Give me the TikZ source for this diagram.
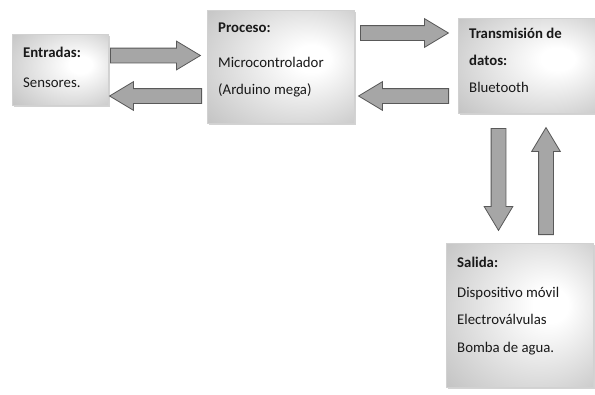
\documentclass[tikz,border=0pt]{standalone}
\usepackage{fontspec}
\setmainfont{Carlito}
\usetikzlibrary{shapes.arrows,shadows}

\pgfdeclareradialshading{cajagris}{\pgfpoint{12bp}{4bp}}{color(0bp)=(white); color(6bp)=(white); color(50bp)=(black!32)}

\begin{document}
\begin{tikzpicture}[x=1pt,y=-1pt,
	caja/.style={draw=black!18, line width=.4pt, shade, shading=cajagris, anchor=north west, inner sep=0pt,
		drop shadow={shadow xshift=1.5pt, shadow yshift=-1.5pt, opacity=.35}},
	flecha/.style={single arrow, draw=black!65, fill=black!35, line width=.8pt, inner sep=7pt,
		single arrow head extend=7pt, single arrow tip angle=62},
	txt/.style={anchor=base west, inner sep=0pt, font=\fontsize{14.8}{17}\selectfont, text=black!90}]

	\useasboundingbox (0,0) rectangle (595,394);

	% cajas
	\node[caja, minimum width=96pt, minimum height=71pt] (ent) at (12,34) {};
	\node[caja, minimum width=147pt, minimum height=113pt] (proc) at (207,10) {};
	\node[caja, minimum width=140pt, minimum height=95pt] (trans) at (458,18) {};
	\node[caja, minimum width=147pt, minimum height=144pt] (sal) at (446,243) {};

	% textos
	\node[txt] (ent1) at (23,57) {\bfseries Entradas:};
	\node[txt] (ent2) at (23,87) {Sensores.};

	\node[txt] (proc1) at (218,32) {\bfseries Proceso:};
	\node[txt] (proc2) at (218,67) {Microcontrolador};
	\node[txt] (proc3) at (218,94) {(Arduino mega)};

	\node[txt] (trans1) at (469,38) {\bfseries Transmisión de};
	\node[txt] (trans2) at (469,65) {\bfseries datos:};
	\node[txt] (trans3) at (469,92) {Bluetooth};

	\node[txt] (sal1) at (457,267) {\bfseries Salida:};
	\node[txt] (sal2) at (457,297) {Dispositivo móvil};
	\node[txt] (sal3) at (457,324) {Electroválvulas};
	\node[txt] (sal4) at (457,352) {Bomba de agua.};

	% flechas
	\node[flecha, minimum height=90pt, anchor=tail] (f1) at (110,55.5) {};
	\node[flecha, minimum height=92pt, anchor=tail, shape border rotate=180] (f2) at (202,96) {};
	\node[flecha, minimum height=88pt, anchor=tail] (f3) at (360,33) {};
	\node[flecha, minimum height=90pt, anchor=tail, shape border rotate=180] (f4) at (449,96) {};
	\node[flecha, minimum height=102pt, anchor=tail, shape border rotate=270] (f5) at (498.5,128) {};
	\node[flecha, minimum height=107pt, anchor=tail, shape border rotate=90] (f6) at (546,235) {};

\end{tikzpicture}
\end{document}
